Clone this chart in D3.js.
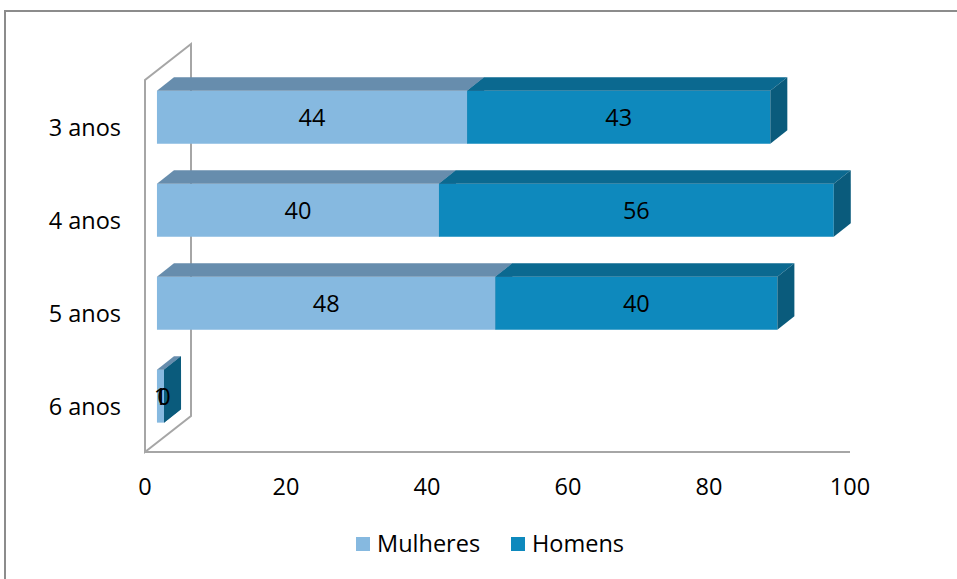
<!DOCTYPE html>
<html><head><meta charset="utf-8">
<script src="https://cdn.jsdelivr.net/npm/d3@7"></script>
<style>body{margin:0;background:#fff}svg{display:block}text{font-family:"Open Sans",sans-serif;fill:#000}</style>
</head><body>
<svg id="c" width="957" height="579"></svg>
<script>
const categories = ["3 anos","4 anos","5 anos","6 anos"];
const mulheres = [44,40,48,1];
const homens = [43,56,40,0];
const seriesNames = ["Mulheres","Homens"];
const xTicks = [0,20,40,60,80,100];

const colors = {
  Mulheres:{front:"#86b9e0", top:"#678dad", side:"#4f7fa3"},
  Homens:{front:"#0e89bd", top:"#0b6990", side:"#0a5b7c"}
};
const svg = d3.select("#c");
const FS = 23.5;

// outer frame
svg.append("path").attr("d","M5,579 L5,11 L957,11").attr("fill","none").attr("stroke","#8c8c8c").attr("stroke-width",2);

const x = d3.scaleLinear().domain([0,100]).range([145,850]);
const y = d3.scaleBand().domain(categories).range([80,452]).paddingInner(0.43).paddingOuter(0.215);
const DX = 46, DY = 36;
const z0 = 0.26, z1 = 0.63;
const P = (v, yy, z) => [x(v) + z*DX, yy - z*DY];

// walls
const wall = svg.append("g").attr("fill","none").attr("stroke","#a6a6a6").attr("stroke-width",2);
wall.append("path").attr("d",`M${x(0)},${y.range()[1]} L${x(0)},${y.range()[0]} L${x(0)+DX},${y.range()[0]-DY} L${x(0)+DX},${y.range()[1]-DY} Z`);
wall.append("line").attr("x1",x(0)).attr("x2",x(100)).attr("y1",452).attr("y2",452);

const poly = pts => "M" + pts.map(p=>p.join(",")).join("L") + "Z";

categories.forEach((c,i)=>{
  const vals = [mulheres[i], homens[i]];
  let acc = 0;
  const yt = y(c), yb = y(c)+y.bandwidth();
  const segs = vals.map((v,k)=>{ const s={name:seriesNames[k], a:acc, b:acc+v, v}; acc+=v; return s; });
  const g = svg.append("g");
  segs.forEach(s=>{
    const col = colors[s.name];
    g.append("path").attr("d", poly([P(s.a,yt,z0),P(s.b,yt,z0),P(s.b,yb,z0),P(s.a,yb,z0)])).attr("fill",col.front);
    g.append("path").attr("d", poly([P(s.a,yt,z0),P(s.b,yt,z0),P(s.b,yt,z1),P(s.a,yt,z1)])).attr("fill",col.top);
    g.append("path").attr("d", poly([P(s.b,yt,z0),P(s.b,yt,z1),P(s.b,yb,z1),P(s.b,yb,z0)])).attr("fill",col.side);
  });
  segs.forEach(s=>{
    const cx = (P(s.a,yt,z0)[0] + P(s.b,yt,z0)[0])/2;
    const cy = (yt+yb)/2 - z0*DY;
    g.append("text").attr("x",cx).attr("y",cy).attr("dy","0.36em").attr("text-anchor","middle")
      .attr("font-size",FS).text(s.v);
  });
});

// category labels
categories.forEach(c=>{
  svg.append("text").attr("x",121).attr("y",y(c)+y.bandwidth()/2+1.5).attr("dy","0.36em")
    .attr("text-anchor","end").attr("font-size",FS).text(c);
});
// x tick labels
xTicks.forEach(t=>{
  svg.append("text").attr("x",x(t)).attr("y",487).attr("dy","0.36em").attr("text-anchor","middle")
    .attr("font-size",FS).text(t);
});
// legend
const leg = [{n:"Mulheres",x:356},{n:"Homens",x:511}];
leg.forEach(l=>{
  svg.append("rect").attr("x",l.x).attr("y",537).attr("width",14).attr("height",14).attr("fill",colors[l.n].front);
  svg.append("text").attr("x",l.x+21).attr("y",544).attr("dy","0.36em").attr("font-size",FS).text(l.n);
});
</script>
</body></html>
